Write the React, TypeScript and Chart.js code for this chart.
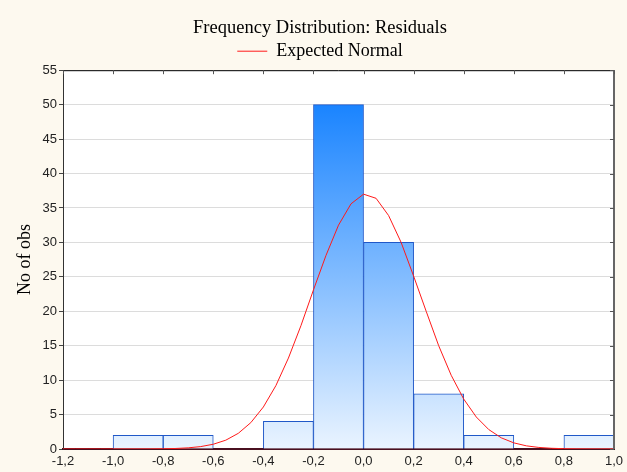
import React, { useEffect, useRef } from 'react';
import { Chart, registerables } from 'chart.js';

Chart.register(...registerables);

// Histogram bins (centers of 0.2-wide classes) and counts
const binCenters = [-1.1, -0.9, -0.7, -0.5, -0.3, -0.1, 0.1, 0.3, 0.5, 0.7, 0.9];
const binCounts = [0, 2, 2, 0, 4, 50, 30, 8, 2, 0, 2];

// Expected normal curve
const curveX = [
  -1.2, -1.15, -1.1, -1.05, -1.0, -0.95, -0.9, -0.85, -0.8, -0.75, -0.7, -0.65, -0.6, -0.55, -0.5,
  -0.45, -0.4, -0.35, -0.3, -0.25, -0.2, -0.15, -0.1, -0.05, 0.0, 0.05, 0.1, 0.15, 0.2, 0.25, 0.3,
  0.35, 0.4, 0.45, 0.5, 0.55, 0.6, 0.65, 0.7, 0.75, 0.8, 0.85, 0.9, 0.95, 1.0,
];
const curveY = [
  0, 0, 0, 0, 0.001, 0.002, 0.005, 0.013, 0.033, 0.076, 0.17, 0.35, 0.69, 1.28, 2.28,
  3.83, 6.1, 9.2, 13.2, 17.9, 23.1, 28.1, 32.5, 35.6, 37.0, 36.4, 33.9, 30.0, 25.1, 20.0, 15.0,
  10.7, 7.25, 4.65, 2.82, 1.62, 0.89, 0.46, 0.225, 0.105, 0.046, 0.019, 0.008, 0.003, 0.001,
];

const xMin = -1.2;
const xMax = 1.0;
const xStep = 0.2;
const yMin = 0;
const yMax = 55;
const yStep = 5;

const titleText = 'Frequency Distribution: Residuals';
const legendText = 'Expected Normal';
const yTitle = 'No of obs';

const BG = '#fdf9ef';
const SERIF = '"Liberation Serif", "Times New Roman", serif';
const SANS = '"Liberation Sans", Arial, sans-serif';

const framePlugin = {
  id: 'framePlugin',
  beforeDraw(chart: any) {
    const { ctx, chartArea, width, height } = chart;
    ctx.save();
    ctx.fillStyle = BG;
    ctx.fillRect(0, 0, width, height);
    ctx.fillStyle = '#ffffff';
    ctx.fillRect(chartArea.left, chartArea.top, chartArea.right - chartArea.left, chartArea.bottom - chartArea.top);
    ctx.restore();
  },
  afterDraw(chart: any) {
    const { ctx, chartArea } = chart;
    const xs = chart.scales.x;
    const ys = chart.scales.y;
    ctx.save();
    ctx.lineWidth = 1;
    // top border
    ctx.strokeStyle = '#000000';
    ctx.beginPath();
    ctx.moveTo(chartArea.left, chartArea.top + 0.5);
    ctx.lineTo(chartArea.right, chartArea.top + 0.5);
    ctx.stroke();
    // right border
    ctx.strokeStyle = '#666666';
    ctx.lineWidth = 2;
    ctx.beginPath();
    ctx.moveTo(chartArea.right, chartArea.top);
    ctx.lineTo(chartArea.right, chartArea.bottom);
    ctx.stroke();
    // inward ticks on top
    ctx.lineWidth = 1;
    ctx.strokeStyle = '#555555';
    xs.ticks.forEach((t: any) => {
      const px = Math.round(xs.getPixelForValue(t.value)) + 0.5;
      ctx.beginPath();
      ctx.moveTo(px, chartArea.top);
      ctx.lineTo(px, chartArea.top + 4);
      ctx.stroke();
    });
    // inward ticks on right
    ys.ticks.forEach((t: any) => {
      const py = Math.round(ys.getPixelForValue(t.value)) + 0.5;
      ctx.beginPath();
      ctx.moveTo(chartArea.right, py);
      ctx.lineTo(chartArea.right - 4, py);
      ctx.stroke();
    });
    ctx.restore();
  },
};

function fmt(v: number) {
  if (Math.abs(v) < 1e-9) return '0,0';
  return v.toFixed(1).replace('.', ',');
}

export default function App() {
  const ref = useRef<HTMLCanvasElement | null>(null);

  useEffect(() => {
    document.body.style.margin = '0';
    const canvas = ref.current;
    if (!canvas) return;

    const barData = binCenters.map((x, i) => ({ x, y: binCounts[i] }));
    const lineData = curveX.map((x, i) => ({ x, y: curveY[i] }));

    const chart = new Chart(canvas, {
      type: 'bar',
      data: {
        datasets: [
          {
            type: 'bar',
            label: 'Residuals',
            data: barData as any,
            backgroundColor: (c: any) => {
              const ch = c.chart;
              const area = ch.chartArea;
              if (!area) return '#8ec0f8';
              const ys = ch.scales.y;
              const g = ch.ctx.createLinearGradient(0, ys.getPixelForValue(0), 0, ys.getPixelForValue(50));
              g.addColorStop(0, '#eaf4ff');
              g.addColorStop(1, '#1a84ff');
              return g;
            },
            borderColor: '#2058c8',
            borderWidth: 1,
            barPercentage: 1,
            categoryPercentage: 1,
            order: 2,
          } as any,
          {
            type: 'line',
            label: legendText,
            data: lineData as any,
            borderColor: '#ff1a1a',
            backgroundColor: '#ff1a1a',
            borderWidth: 1,
            pointRadius: 0,
            tension: 0,
            fill: false,
            order: 1,
          } as any,
        ],
      },
      options: {
        animation: false,
        responsive: false,
        maintainAspectRatio: false,
        layout: { padding: { left: 14, right: 1, top: 0, bottom: 0 } },
        plugins: {
          title: {
            display: true,
            text: titleText,
            color: '#000000',
            font: { family: SERIF, size: 18.5, weight: 'normal' },
            padding: { top: 17, bottom: 0 },
          },
          legend: {
            display: true,
            position: 'top',
            labels: {
              filter: (item: any) => item.datasetIndex === 1,
              usePointStyle: true,
              pointStyle: 'line',
              pointStyleWidth: 30,
              color: '#000000',
              padding: 3,
              font: { family: SERIF, size: 18 },
            },
          },
          tooltip: { enabled: false },
        },
        scales: {
          x: {
            type: 'linear',
            min: xMin,
            max: xMax,
            offset: false,
            grid: { display: true, drawOnChartArea: false, drawTicks: false },
            border: { display: true, color: '#4a1020', width: 2 },
            ticks: {
              stepSize: xStep,
              autoSkip: false,
              maxRotation: 0,
              padding: 5,
              color: '#222222',
              font: { family: SANS, size: 13 },
              callback: (v: any) => fmt(Number(v)),
            },
            afterFit: (s: any) => {
              s.height = 23;
              s.paddingLeft = 0;
              s.paddingRight = 13;
            },
          },
          y: {
            type: 'linear',
            min: yMin,
            max: yMax,
            grid: { color: '#dcdcdc', lineWidth: 1, tickLength: 4, tickColor: '#444444' },
            border: { display: true, color: '#333333', width: 1 },
            ticks: {
              stepSize: yStep,
              padding: 2,
              color: '#222222',
              font: { family: SANS, size: 13 },
            },
            title: {
              display: true,
              text: yTitle,
              color: '#000000',
              font: { family: SERIF, size: 18 },
              padding: { top: 0, bottom: 0 },
            },
            afterFit: (s: any) => {
              s.width = 49;
            },
          },
        },
      },
      plugins: [framePlugin],
    });

    return () => chart.destroy();
  }, []);

  return (
    <div style={{ width: 627, height: 472, background: BG }}>
      <canvas ref={ref} width={627} height={472} style={{ display: 'block', width: 627, height: 472 }} />
    </div>
  );
}
